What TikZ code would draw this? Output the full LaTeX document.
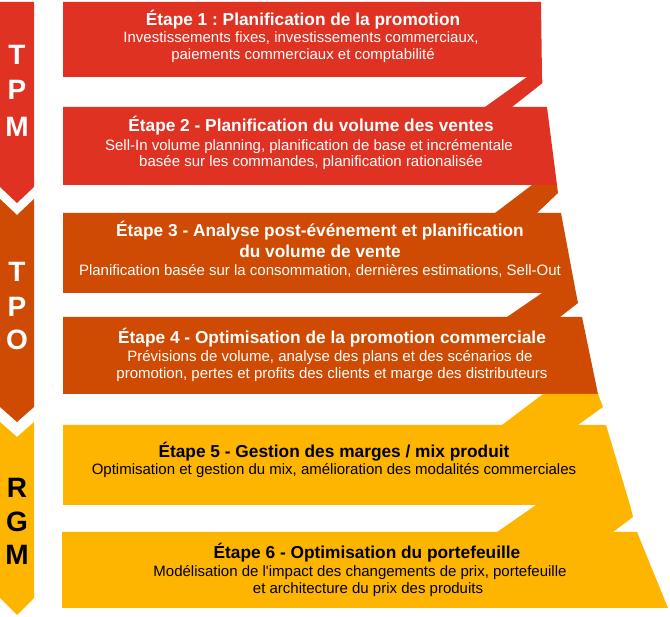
\documentclass[tikz,border=0pt]{standalone}
\usepackage{fontspec}
\setmainfont{Liberation Sans}[Ligatures=TeXOff]
\frenchspacing
\definecolor{tpmred}{HTML}{E03223}
\definecolor{tpoorange}{HTML}{CF4A02}
\definecolor{rgmyellow}{HTML}{FDB500}

\begin{document}
\begin{tikzpicture}[x=1pt,y=-1pt,line join=round,
  etape/.style={font=\bfseries\fontsize{17.3}{20}\selectfont,anchor=base,inner sep=0pt},
  detail/.style={font=\fontsize{15}{17}\selectfont,anchor=base,inner sep=0pt},
  lettre/.style={font=\bfseries\fontsize{28}{28}\selectfont,inner sep=0pt}]
\useasboundingbox (0,0) rectangle (670,617);
% left arrows
\fill[tpmred] (0,2)--(34,2)--(34,187)--(17,203)--(0,187)--cycle;
\fill[tpoorange] (0,199)--(17,215)--(34,199)--(34,407)--(17,422)--(0,407)--cycle;
\fill[rgmyellow] (0,422)--(17,437)--(34,422)--(34,598)--(17,615)--(0,598)--cycle;
\foreach \l/\y in {T/55,P/90,M/127}
  \node[lettre,text=white] (tpm\l) at (17,\y) {\l};
\foreach \l/\y in {T/272,P/307,O/340}
  \node[lettre,text=white] (tpo\l) at (17,\y) {\l};
\foreach \l/\y in {R/488,G/522,M/555}
  \node[lettre,text=black] (rgm\l) at (17,\y) {\l};
% banners
\fill[tpmred] (63,2)--(541,2)--(542,77)--(63,77)--cycle;
\fill[tpmred] (63,107)--(547,107)--(557,185)--(63,185)--cycle;
\fill[tpoorange] (63,213)--(561,213)--(576,293)--(63,293)--cycle;
\fill[tpoorange] (63,317)--(582,317)--(598,394)--(63,394)--cycle;
\fill[rgmyellow] (63,425)--(606,425)--(630,505)--(63,505)--cycle;
\fill[rgmyellow] (62,532)--(637,532)--(668,608)--(62,608)--cycle;
% folds
\fill[tpmred] (527,77)--(542,77)--(542.5,83)--(512,107)--(485,107)--cycle;
\fill[tpoorange] (532,185)--(557,185)--(558,193)--(537,213)--(495,213)--cycle;
\fill[tpoorange] (542,293)--(576,293)--(578,303)--(560,317)--(507,317)--cycle;
\fill[rgmyellow] (543,394)--(598,394)--(603,407)--(578,425)--(502,425)--cycle;
\fill[rgmyellow] (536,505)--(630,505)--(633,517)--(613,532)--(497,532)--cycle;
% texts
\begin{scope}[text=white]
\node[etape] (E1) at (303,26) {Étape 1 : Planification de la promotion};
\node[detail] (E1a) at (301,43) {Investissements fixes, investissements commerciaux,};
\node[detail] (E1b) at (303,60) {paiements commerciaux et comptabilité};
\node[etape] (E2) at (311,132) {Étape 2 - Planification du volume des ventes};
\node[detail] (E2a) at (309,151) {Sell-In volume planning, planification de base et incrémentale};
\node[detail] (E2b) at (311,167) {basée sur les commandes, planification rationalisée};
\node[etape] (E3) at (320,237) {Étape 3 - Analyse post-événement et planification};
\node[etape] (E3x) at (320,258) {du volume de vente};
\node[detail] (E3a) at (320,276) {Planification basée sur la consommation, dernières estimations, Sell-Out};
\node[etape] (E4) at (332,344) {Étape 4 - Optimisation de la promotion commerciale};
\node[detail] (E4a) at (330,362) {Prévisions de volume, analyse des plans et des scénarios de};
\node[detail] (E4b) at (332,379) {promotion, pertes et profits des clients et marge des distributeurs};
\end{scope}
\node[etape] (E5) at (334,458) {Étape 5 - Gestion des marges / mix produit};
\node[detail] (E5a) at (334,475) {Optimisation et gestion du mix, amélioration des modalités commerciales};
\node[etape] (E6) at (367,559) {Étape 6 - Optimisation du portefeuille};
\node[detail] (E6a) at (360,577) {Modélisation de l'impact des changements de prix, portefeuille};
\node[detail] (E6b) at (368,594) {et architecture du prix des produits};
\end{tikzpicture}
\end{document}
